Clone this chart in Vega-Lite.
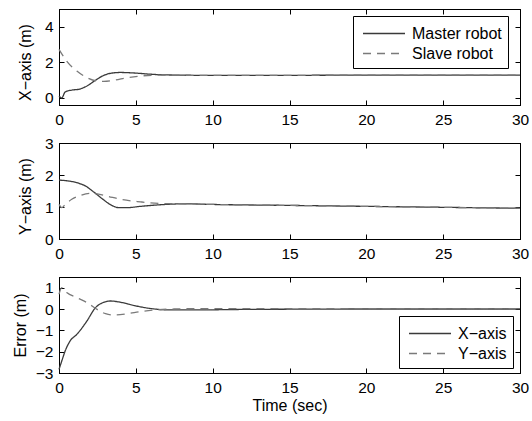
{
  "$schema": "https://vega.github.io/schema/vega-lite/v6.json",
  "background": "white",
  "padding": {"left": 11, "top": 8, "right": 5, "bottom": 5},
  "bounds": "flush",
  "spacing": 38,
  "datasets": {
    "xax": [
      {"t": 0, "v": 0.1, "s": "Master robot"},
      {"t": 0.18, "v": 0.0, "s": "Master robot"},
      {"t": 0.4, "v": 0.33, "s": "Master robot"},
      {"t": 0.83, "v": 0.44, "s": "Master robot"},
      {"t": 1.27, "v": 0.48, "s": "Master robot"},
      {"t": 1.82, "v": 0.67, "s": "Master robot"},
      {"t": 2.37, "v": 0.99, "s": "Master robot"},
      {"t": 2.92, "v": 1.27, "s": "Master robot"},
      {"t": 3.57, "v": 1.41, "s": "Master robot"},
      {"t": 4.0, "v": 1.43, "s": "Master robot"},
      {"t": 4.9, "v": 1.4, "s": "Master robot"},
      {"t": 6.0, "v": 1.33, "s": "Master robot"},
      {"t": 7.1, "v": 1.29, "s": "Master robot"},
      {"t": 9.3, "v": 1.27, "s": "Master robot"},
      {"t": 15, "v": 1.27, "s": "Master robot"},
      {"t": 20, "v": 1.28, "s": "Master robot"},
      {"t": 25, "v": 1.28, "s": "Master robot"},
      {"t": 30, "v": 1.28, "s": "Master robot"},
      {"t": 0, "v": 2.73, "s": "Slave robot"},
      {"t": 0.5, "v": 2.07, "s": "Slave robot"},
      {"t": 1.16, "v": 1.51, "s": "Slave robot"},
      {"t": 1.82, "v": 1.14, "s": "Slave robot"},
      {"t": 2.48, "v": 0.95, "s": "Slave robot"},
      {"t": 2.92, "v": 0.93, "s": "Slave robot"},
      {"t": 3.57, "v": 0.99, "s": "Slave robot"},
      {"t": 4.45, "v": 1.14, "s": "Slave robot"},
      {"t": 5.3, "v": 1.23, "s": "Slave robot"},
      {"t": 6.6, "v": 1.28, "s": "Slave robot"},
      {"t": 9.3, "v": 1.27, "s": "Slave robot"},
      {"t": 15, "v": 1.27, "s": "Slave robot"},
      {"t": 20, "v": 1.28, "s": "Slave robot"},
      {"t": 25, "v": 1.28, "s": "Slave robot"},
      {"t": 30, "v": 1.28, "s": "Slave robot"}
    ],
    "yax": [
      {"t": 0, "v": 1.84, "s": "Master robot"},
      {"t": 0.5, "v": 1.82, "s": "Master robot"},
      {"t": 1.16, "v": 1.76, "s": "Master robot"},
      {"t": 1.71, "v": 1.66, "s": "Master robot"},
      {"t": 2.26, "v": 1.47, "s": "Master robot"},
      {"t": 2.81, "v": 1.26, "s": "Master robot"},
      {"t": 3.36, "v": 1.07, "s": "Master robot"},
      {"t": 3.9, "v": 0.98, "s": "Master robot"},
      {"t": 4.45, "v": 0.98, "s": "Master robot"},
      {"t": 5.3, "v": 1.02, "s": "Master robot"},
      {"t": 6.6, "v": 1.07, "s": "Master robot"},
      {"t": 8.2, "v": 1.1, "s": "Master robot"},
      {"t": 10, "v": 1.08, "s": "Master robot"},
      {"t": 15, "v": 1.05, "s": "Master robot"},
      {"t": 20, "v": 1.02, "s": "Master robot"},
      {"t": 25, "v": 0.99, "s": "Master robot"},
      {"t": 30, "v": 0.96, "s": "Master robot"},
      {"t": 0, "v": 1.08, "s": "Slave robot"},
      {"t": 0.18, "v": 0.98, "s": "Slave robot"},
      {"t": 0.4, "v": 1.08, "s": "Slave robot"},
      {"t": 0.83, "v": 1.24, "s": "Slave robot"},
      {"t": 1.38, "v": 1.36, "s": "Slave robot"},
      {"t": 2.04, "v": 1.43, "s": "Slave robot"},
      {"t": 2.48, "v": 1.41, "s": "Slave robot"},
      {"t": 3.14, "v": 1.34, "s": "Slave robot"},
      {"t": 4.0, "v": 1.24, "s": "Slave robot"},
      {"t": 5.3, "v": 1.16, "s": "Slave robot"},
      {"t": 6.6, "v": 1.11, "s": "Slave robot"},
      {"t": 8.2, "v": 1.1, "s": "Slave robot"},
      {"t": 10, "v": 1.08, "s": "Slave robot"},
      {"t": 15, "v": 1.05, "s": "Slave robot"},
      {"t": 20, "v": 1.02, "s": "Slave robot"},
      {"t": 25, "v": 0.99, "s": "Slave robot"},
      {"t": 30, "v": 0.96, "s": "Slave robot"}
    ],
    "err": [
      {"t": 0, "v": -2.83, "s": "X−axis"},
      {"t": 0.18, "v": -2.44, "s": "X−axis"},
      {"t": 0.4, "v": -1.97, "s": "X−axis"},
      {"t": 0.72, "v": -1.5, "s": "X−axis"},
      {"t": 1.16, "v": -1.19, "s": "X−axis"},
      {"t": 1.82, "v": -0.56, "s": "X−axis"},
      {"t": 2.37, "v": 0.06, "s": "X−axis"},
      {"t": 2.8, "v": 0.28, "s": "X−axis"},
      {"t": 3.36, "v": 0.375, "s": "X−axis"},
      {"t": 3.9, "v": 0.33, "s": "X−axis"},
      {"t": 4.9, "v": 0.16, "s": "X−axis"},
      {"t": 6.0, "v": 0.02, "s": "X−axis"},
      {"t": 7.1, "v": -0.04, "s": "X−axis"},
      {"t": 9.3, "v": -0.04, "s": "X−axis"},
      {"t": 12, "v": -0.02, "s": "X−axis"},
      {"t": 15, "v": -0.01, "s": "X−axis"},
      {"t": 20, "v": 0.0, "s": "X−axis"},
      {"t": 25, "v": 0.0, "s": "X−axis"},
      {"t": 30, "v": 0.0, "s": "X−axis"},
      {"t": 0, "v": 0.69, "s": "Y−axis"},
      {"t": 0.18, "v": 1.0, "s": "Y−axis"},
      {"t": 0.5, "v": 0.77, "s": "Y−axis"},
      {"t": 1.16, "v": 0.53, "s": "Y−axis"},
      {"t": 1.82, "v": 0.3, "s": "Y−axis"},
      {"t": 2.48, "v": -0.02, "s": "Y−axis"},
      {"t": 3.03, "v": -0.22, "s": "Y−axis"},
      {"t": 3.57, "v": -0.28, "s": "Y−axis"},
      {"t": 4.45, "v": -0.22, "s": "Y−axis"},
      {"t": 5.3, "v": -0.12, "s": "Y−axis"},
      {"t": 6.2, "v": -0.05, "s": "Y−axis"},
      {"t": 7.5, "v": 0.0, "s": "Y−axis"},
      {"t": 10, "v": 0.02, "s": "Y−axis"},
      {"t": 15, "v": 0.02, "s": "Y−axis"},
      {"t": 20, "v": 0.02, "s": "Y−axis"},
      {"t": 25, "v": 0.02, "s": "Y−axis"},
      {"t": 30, "v": 0.02, "s": "Y−axis"}
    ]
  },
  "config": {
    "view": {"stroke": "black", "strokeWidth": 1},
    "axis": {
      "labelFont": "Liberation Sans", "labelFontSize": 15.5, "labelColor": "black",
      "titleFont": "Liberation Sans", "titleFontSize": 16, "titleFontWeight": "normal", "titleColor": "black",
      "tickColor": "black", "domainColor": "black", "tickSize": -5, "grid": false,
      "labelFlush": false, "labelOverlap": false, "labelBound": false
    },
    "axisX": {"labelPadding": 12, "titlePadding": 2},
    "axisY": {"labelPadding": 11},
    "legend": {
      "labelFont": "Liberation Sans", "labelFontSize": 16, "labelColor": "black",
      "symbolType": "M-0.714,0H3.286", "symbolSize": 441, "symbolStrokeWidth": 1.3,
      "strokeColor": "black", "fillColor": "white", "padding": 6, "rowPadding": 0, "labelOffset": 30
    }
  },
  "vconcat": [
    {
      "width": 461, "height": 96,
      "data": {"name": "xax"},
      "layer": [
        {
          "mark": {"type": "line", "strokeWidth": 1.3, "interpolate": "monotone"},
          "encoding": {
            "x": {"field": "t", "type": "quantitative", "scale": {"domain": [0, 30], "nice": false, "zero": false}, "axis": {"values": [0, 5, 10, 15, 20, 25, 30], "title": null}},
            "y": {"field": "v", "type": "quantitative", "scale": {"domain": [-0.4, 5], "nice": false, "zero": false}, "axis": {"values": [0, 2, 4], "title": "X−axis (m)", "titleX": -26, "titleY": 53}},
            "color": {"field": "s", "type": "nominal", "scale": {"domain": ["Master robot", "Slave robot"], "range": ["#3a3a3a", "#7a7a7a"]}, "legend": {"orient": "none", "legendX": 294, "legendY": 7, "title": null}},
            "strokeDash": {"field": "s", "type": "nominal", "scale": {"domain": ["Master robot", "Slave robot"], "range": [[1, 0], [8, 6]]}, "legend": {"orient": "none", "legendX": 294, "legendY": 7, "title": null}}
          }
        },
        {
          "mark": {"type": "line", "opacity": 0},
          "encoding": {
            "x": {"field": "t", "type": "quantitative", "axis": {"orient": "top", "labels": false, "values": [0, 5, 10, 15, 20, 25, 30], "title": null}},
            "y": {"field": "v", "type": "quantitative", "axis": {"orient": "right", "labels": false, "values": [0, 2, 4], "title": null}}
          }
        }
      ],
      "resolve": {"axis": {"x": "independent", "y": "independent"}}
    },
    {
      "width": 461, "height": 96,
      "data": {"name": "yax"},
      "layer": [
        {
          "mark": {"type": "line", "strokeWidth": 1.3, "interpolate": "monotone"},
          "encoding": {
            "x": {"field": "t", "type": "quantitative", "scale": {"domain": [0, 30], "nice": false, "zero": false}, "axis": {"values": [0, 5, 10, 15, 20, 25, 30], "title": null}},
            "y": {"field": "v", "type": "quantitative", "scale": {"domain": [0, 3], "nice": false, "zero": false}, "axis": {"values": [0, 1, 2, 3], "title": "Y−axis (m)", "titleX": -26, "titleY": 53}},
            "color": {"field": "s", "type": "nominal", "scale": {"domain": ["Master robot", "Slave robot"], "range": ["#3a3a3a", "#7a7a7a"]}, "legend": null},
            "strokeDash": {"field": "s", "type": "nominal", "scale": {"domain": ["Master robot", "Slave robot"], "range": [[1, 0], [8, 6]]}, "legend": null}
          }
        },
        {
          "mark": {"type": "line", "opacity": 0},
          "encoding": {
            "x": {"field": "t", "type": "quantitative", "axis": {"orient": "top", "labels": false, "values": [0, 5, 10, 15, 20, 25, 30], "title": null}},
            "y": {"field": "v", "type": "quantitative", "axis": {"orient": "right", "labels": false, "values": [0, 1, 2, 3], "title": null}}
          }
        }
      ],
      "resolve": {"axis": {"x": "independent", "y": "independent"}}
    },
    {
      "width": 461, "height": 96,
      "data": {"name": "err"},
      "layer": [
        {
          "mark": {"type": "line", "strokeWidth": 1.3, "interpolate": "monotone"},
          "encoding": {
            "x": {"field": "t", "type": "quantitative", "scale": {"domain": [0, 30], "nice": false, "zero": false}, "axis": {"values": [0, 5, 10, 15, 20, 25, 30], "title": "Time (sec)"}},
            "y": {"field": "v", "type": "quantitative", "scale": {"domain": [-3, 1.5], "nice": false, "zero": false}, "axis": {"values": [-3, -2, -1, 0, 1], "title": "Error (m)", "titleX": -31, "titleY": 48}},
            "color": {"field": "s", "type": "nominal", "scale": {"domain": ["X−axis", "Y−axis"], "range": ["#3a3a3a", "#7a7a7a"]}, "legend": {"orient": "none", "legendX": 340, "legendY": 39, "title": null}},
            "strokeDash": {"field": "s", "type": "nominal", "scale": {"domain": ["X−axis", "Y−axis"], "range": [[1, 0], [8, 6]]}, "legend": {"orient": "none", "legendX": 340, "legendY": 39, "title": null}}
          }
        },
        {
          "mark": {"type": "line", "opacity": 0},
          "encoding": {
            "x": {"field": "t", "type": "quantitative", "axis": {"orient": "top", "labels": false, "values": [0, 5, 10, 15, 20, 25, 30], "title": null}},
            "y": {"field": "v", "type": "quantitative", "axis": {"orient": "right", "labels": false, "values": [-3, -2, -1, 0, 1], "title": null}}
          }
        }
      ],
      "resolve": {"axis": {"x": "independent", "y": "independent"}, "scale": {"color": "independent", "strokeDash": "independent"}}
    }
  ],
  "resolve": {"scale": {"color": "independent", "strokeDash": "independent"}, "legend": {"color": "independent", "strokeDash": "independent"}}
}
